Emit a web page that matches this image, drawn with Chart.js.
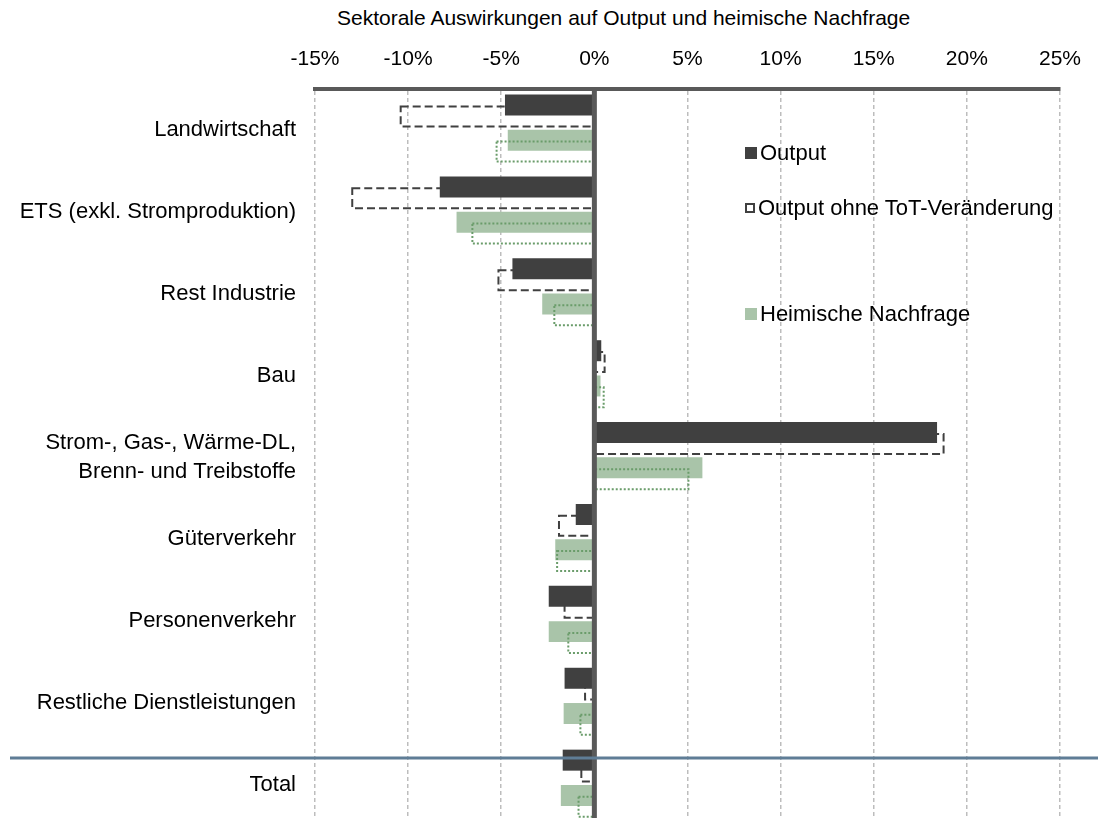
<!DOCTYPE html>
<html lang="de">
<head>
<meta charset="utf-8">
<title>Sektorale Auswirkungen</title>
<script src="https://cdn.jsdelivr.net/npm/chart.js@4.4.1/dist/chart.umd.min.js"></script>
<style>
  html, body { margin: 0; padding: 0; background: #fff; overflow: hidden; }
  body { width: 1098px; height: 818px; position: relative; font-family: "Liberation Sans", Arial, sans-serif; color: #000; }
  #myChart { position: absolute; left: 0; top: 0; }
  #title { position: absolute; left: 337px; top: 6px; font-size: 21px; line-height: 24px; white-space: nowrap; }
  .leg { position: absolute; left: 745px; font-size: 22px; line-height: 24px; white-space: nowrap; display: flex; align-items: center; }
  .leg i { display: inline-block; width: 12px; height: 12px; margin-right: 3px; box-sizing: border-box; }
</style>
</head>
<body>
<div id="title">Sektorale Auswirkungen auf Output und heimische Nachfrage</div>
<canvas id="myChart" width="1098" height="826"></canvas>
<div id="legend"></div>
<script>
const sectors = [
    'Landwirtschaft',
    'ETS (exkl. Stromproduktion)',
    'Rest Industrie',
    'Bau',
    ['Strom-, Gas-, Wärme-DL,', 'Brenn- und Treibstoffe'],
    'Güterverkehr',
    'Personenverkehr',
    'Restliche Dienstleistungen',
    'Total'
];

// Werte in %
const output = [-4.8, -8.3, -4.4, 0.37, 18.4, -1.0, -2.45, -1.6, -1.7];
const outputOhneToT = [-10.4, -13.0, -5.15, 0.55, 18.75, -1.9, -1.6, -0.5, -0.7];
const heimischeNachfrage = [-4.65, -7.4, -2.8, 0.33, 5.8, -2.1, -2.45, -1.65, -1.8];
const nachfrageOhneToT = [-5.25, -6.55, -2.15, 0.5, 5.05, -2.0, -1.4, -0.75, -0.85];

const xTicks = [-15, -10, -5, 0, 5, 10, 15, 20, 25];

const DARK = '#404040';
const GREEN = '#a9c4a9';
const FAMILY = '"Liberation Sans", Arial, sans-serif';

// dashed / dotted outlines for the "ohne ToT" series
const outlinePlugin = {
    id: 'outlines',
    afterDatasetDraw(chart, args) {
        const ds = chart.data.datasets[args.index];
        if (!ds.outline) return;
        const ctx = chart.ctx;
        ctx.save();
        ctx.strokeStyle = ds.outline.color;
        ctx.lineWidth = ds.outline.width;
        ctx.setLineDash(ds.outline.dash);
        args.meta.data.forEach(bar => {
            const p = bar.getProps(['x', 'y', 'base', 'height'], true);
            ctx.strokeRect(Math.min(p.x, p.base), p.y - p.height / 2, Math.abs(p.x - p.base), p.height);
        });
        ctx.restore();
    }
};

// zero axis and the separator above "Total"
const linesPlugin = {
    id: 'lines',
    afterDatasetsDraw(chart) {
        const {ctx, chartArea, scales} = chart;
        const x0 = scales.x.getPixelForValue(0);
        ctx.save();
        ctx.strokeStyle = '#595959';
        ctx.lineWidth = 5;
        ctx.beginPath();
        ctx.moveTo(x0, chartArea.top);
        ctx.lineTo(x0, chartArea.bottom);
        ctx.stroke();

        const ySep = scales.y.getPixelForValue(sectors.length - 1.33);
        ctx.strokeStyle = '#5f7d96';
        ctx.lineWidth = 3;
        ctx.beginPath();
        ctx.moveTo(10, ySep);
        ctx.lineTo(chart.width, ySep);
        ctx.stroke();
        ctx.restore();
    }
};

const datasets = [
    {
        label: 'Output',
        data: output,
        backgroundColor: DARK,
        categoryPercentage: 0.811,
        barPercentage: 1.265
    },
    {
        label: 'Output ohne ToT-Veränderung',
        data: outputOhneToT,
        backgroundColor: 'rgba(0,0,0,0)',
        outline: { color: DARK, width: 2, dash: [8, 4] },
        categoryPercentage: 1.324,
        barPercentage: 0.738
    },
    {
        label: 'Heimische Nachfrage ohne ToT-Veränderung',
        data: nachfrageOhneToT,
        backgroundColor: 'rgba(0,0,0,0)',
        outline: { color: '#6a9c6a', width: 2, dash: [2, 2] },
        categoryPercentage: 2.115,
        barPercentage: 0.462
    },
    {
        label: 'Heimische Nachfrage',
        data: heimischeNachfrage,
        backgroundColor: GREEN,
        categoryPercentage: 0.337,
        barPercentage: 3.04
    }
];

const myChart = new Chart(document.getElementById('myChart'), {
    type: 'bar',
    data: { labels: sectors, datasets: datasets },
    options: {
        indexAxis: 'y',
        responsive: false,
        animation: false,
        layout: { padding: { right: 26 } },
        plugins: { legend: { display: false }, tooltip: { enabled: false } },
        scales: {
            x: {
                position: 'top',
                min: xTicks[0],
                max: xTicks[xTicks.length - 1],
                afterBuildTicks: scale => { scale.ticks = xTicks.map(v => ({ value: v })); },
                afterFit: scale => { scale.height = 89; },
                ticks: {
                    color: '#000',
                    font: { family: FAMILY, size: 21 },
                    padding: 17,
                    maxRotation: 0,
                    callback: v => v + '%'
                },
                grid: { color: '#bdbdbd', lineWidth: 1.5, drawTicks: false },
                border: { color: '#595959', width: 4, dash: [4, 3] }
            },
            y: {
                afterFit: scale => {
                    scale.width = 315;
                    scale.paddingTop = 0;
                    scale.paddingBottom = 0;
                },
                ticks: { color: '#000', font: { family: FAMILY, size: 22, lineHeight: 1.3 }, padding: 19 },
                grid: { display: false, drawTicks: false },
                border: { display: false }
            }
        }
    },
    plugins: [outlinePlugin, linesPlugin]
});

// legend, placed like the original (the dotted series has no entry)
const legendTops = [141, 196, 302];
const legendIcons = [
    'background:' + DARK,
    'width:10px;height:10px;border:2px dashed ' + DARK,
    'background:' + GREEN
];
const legendEl = document.getElementById('legend');
[datasets[0], datasets[1], datasets[3]].forEach((ds, i) => {
    const div = document.createElement('div');
    div.className = 'leg';
    div.style.top = legendTops[i] + 'px';
    div.innerHTML = '<i style="' + legendIcons[i] + '"></i>' + ds.label;
    legendEl.appendChild(div);
});
</script>
</body>
</html>
